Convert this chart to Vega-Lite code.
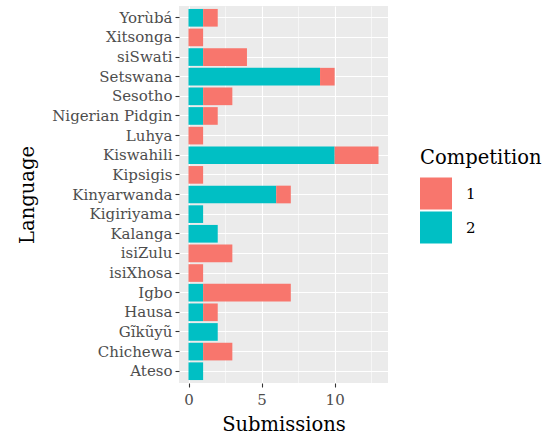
{
  "$schema": "https://vega.github.io/schema/vega-lite/v6.json",
  "width": 209,
  "height": 377,
  "autosize": "none",
  "padding": {"left": 179, "top": 6, "right": 165, "bottom": 54},
  "background": "white",
  "config": {
    "font": "DejaVu Serif",
    "view": {"fill": "#EBEBEB", "stroke": null}
  },
  "data": {
    "values": [
      {"Language": "Yorùbá", "Competition": "2", "Submissions": 1},
      {"Language": "Yorùbá", "Competition": "1", "Submissions": 1},
      {"Language": "Xitsonga", "Competition": "1", "Submissions": 1},
      {"Language": "siSwati", "Competition": "2", "Submissions": 1},
      {"Language": "siSwati", "Competition": "1", "Submissions": 3},
      {"Language": "Setswana", "Competition": "2", "Submissions": 9},
      {"Language": "Setswana", "Competition": "1", "Submissions": 1},
      {"Language": "Sesotho", "Competition": "2", "Submissions": 1},
      {"Language": "Sesotho", "Competition": "1", "Submissions": 2},
      {"Language": "Nigerian Pidgin", "Competition": "2", "Submissions": 1},
      {"Language": "Nigerian Pidgin", "Competition": "1", "Submissions": 1},
      {"Language": "Luhya", "Competition": "1", "Submissions": 1},
      {"Language": "Kiswahili", "Competition": "2", "Submissions": 10},
      {"Language": "Kiswahili", "Competition": "1", "Submissions": 3},
      {"Language": "Kipsigis", "Competition": "1", "Submissions": 1},
      {"Language": "Kinyarwanda", "Competition": "2", "Submissions": 6},
      {"Language": "Kinyarwanda", "Competition": "1", "Submissions": 1},
      {"Language": "Kigiriyama", "Competition": "2", "Submissions": 1},
      {"Language": "Kalanga", "Competition": "2", "Submissions": 2},
      {"Language": "isiZulu", "Competition": "1", "Submissions": 3},
      {"Language": "isiXhosa", "Competition": "1", "Submissions": 1},
      {"Language": "Igbo", "Competition": "2", "Submissions": 1},
      {"Language": "Igbo", "Competition": "1", "Submissions": 6},
      {"Language": "Hausa", "Competition": "2", "Submissions": 1},
      {"Language": "Hausa", "Competition": "1", "Submissions": 1},
      {"Language": "Gĩkũyũ", "Competition": "2", "Submissions": 2},
      {"Language": "Chichewa", "Competition": "2", "Submissions": 1},
      {"Language": "Chichewa", "Competition": "1", "Submissions": 2},
      {"Language": "Ateso", "Competition": "2", "Submissions": 1}
    ]
  },
  "mark": {"type": "bar"},
  "encoding": {
    "y": {
      "field": "Language",
      "type": "nominal",
      "sort": ["Yorùbá", "Xitsonga", "siSwati", "Setswana", "Sesotho", "Nigerian Pidgin", "Luhya", "Kiswahili", "Kipsigis", "Kinyarwanda", "Kigiriyama", "Kalanga", "isiZulu", "isiXhosa", "Igbo", "Hausa", "Gĩkũyũ", "Chichewa", "Ateso"],
      "scale": {"paddingInner": 0.1, "paddingOuter": 0.15},
      "axis": {
        "title": "Language",
        "titleFontSize": 19.5,
        "titleFontWeight": "normal",
        "titleColor": "black",
        "titleX": -152,
        "titleBaseline": "middle",
        "labelFontSize": 15,
        "labelColor": "#4D4D4D",
        "labelPadding": 3,
        "tickColor": "#333333",
        "tickSize": 4,
        "tickWidth": 1.1,
        "domain": false,
        "grid": true,
        "gridColor": "white",
        "gridWidth": 1.1,
        "bandPosition": 0.5
      }
    },
    "x": {
      "field": "Submissions",
      "type": "quantitative",
      "aggregate": "sum",
      "stack": "zero",
      "scale": {"domain": [-0.65, 13.65], "nice": false, "zero": false},
      "axis": {
        "title": "Submissions",
        "titleFontSize": 19.5,
        "titleFontWeight": "normal",
        "titleColor": "black",
        "titlePadding": 8,
        "values": [0, 2.5, 5, 7.5, 10, 12.5],
        "labelExpr": "datum.value % 5 === 0 ? datum.label : ''",
        "labelFontSize": 15,
        "labelColor": "#4D4D4D",
        "labelPadding": 5,
        "tickColor": "#333333",
        "tickSize": 4,
        "tickWidth": 1.1,
        "tickOpacity": {"condition": {"test": "datum.value % 5 === 0", "value": 1}, "value": 0},
        "domain": false,
        "grid": true,
        "gridColor": "white",
        "gridWidth": {"condition": {"test": "datum.value % 5 === 0", "value": 1.1}, "value": 0.55}
      }
    },
    "color": {
      "field": "Competition",
      "type": "nominal",
      "scale": {"domain": ["1", "2"], "range": ["#F8766D", "#00BFC4"]},
      "legend": {
        "title": "Competition",
        "titleFontSize": 19.5,
        "titleFontWeight": "normal",
        "titleColor": "black",
        "titlePadding": 9,
        "labelFontSize": 15,
        "labelColor": "black",
        "labelOffset": 14,
        "symbolType": "square",
        "symbolSize": 1024,
        "symbolStrokeWidth": 0,
        "symbolOpacity": 1,
        "rowPadding": 2,
        "orient": "none",
        "legendX": 241,
        "legendY": 143
      }
    },
    "order": {"field": "Competition", "sort": "descending"}
  }
}
